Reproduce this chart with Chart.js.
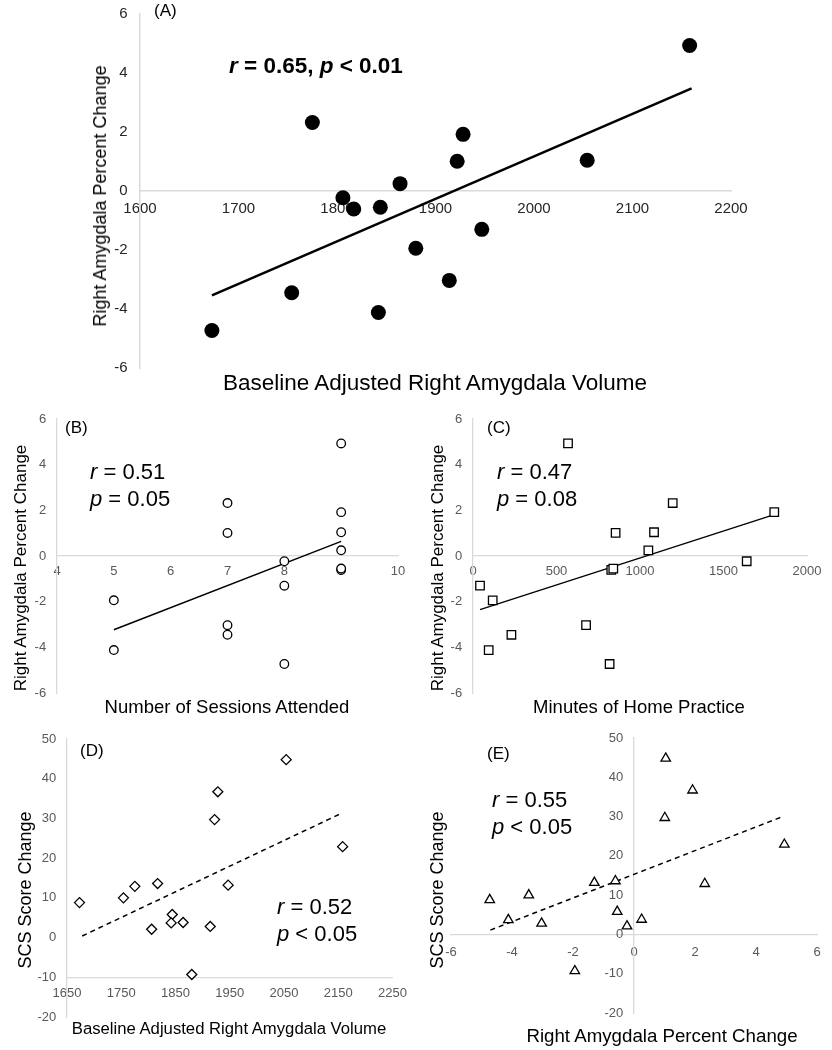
<!DOCTYPE html>
<html>
<head>
<meta charset="utf-8">
<script src="https://cdn.jsdelivr.net/npm/chart.js@4.4.1/dist/chart.umd.min.js"></script>
<style>
  body { margin: 0; background: #fff; }
  #wrap { position: relative; width: 832px; height: 1050px; overflow: hidden; font-family: "Liberation Sans", Arial, sans-serif; color: #000; }
  canvas { position: absolute; }
  .txt { position: absolute; white-space: nowrap; line-height: 1; }
  .vt { transform-origin: center center; transform: translate(-50%, -50%) rotate(-90deg); }
  .hc { transform: translateX(-50%); }
</style>
</head>
<body>
<div id="wrap">
  <canvas id="chartA"></canvas>
  <canvas id="chartB"></canvas>
  <canvas id="chartC"></canvas>
  <canvas id="chartD"></canvas>
  <canvas id="chartE"></canvas>

  <!-- panel A text -->
  <div class="txt" style="left:154px; top:2px; font-size:17px;">(A)</div>
  <div class="txt" style="left:229px; top:55px; font-size:22.5px; font-weight:bold;"><i>r</i> = 0.65, <i>p</i> &lt; 0.01</div>
  <div class="txt vt" style="left:100px; top:196px; font-size:18px;">Right Amygdala Percent Change</div>
  <div class="txt hc" style="left:435px; top:372px; font-size:22.5px;">Baseline Adjusted Right Amygdala Volume</div>

  <!-- panel B text -->
  <div class="txt" style="left:65px; top:419px; font-size:17px;">(B)</div>
  <div class="txt" style="left:90px; top:458px; font-size:22px; line-height:27px;"><i>r</i> = 0.51<br><i>p</i> = 0.05</div>
  <div class="txt vt" style="left:20px; top:568px; font-size:17px;">Right Amygdala Percent Change</div>
  <div class="txt hc" style="left:227px; top:698px; font-size:18.5px;">Number of Sessions Attended</div>

  <!-- panel C text -->
  <div class="txt" style="left:487px; top:419px; font-size:17px;">(C)</div>
  <div class="txt" style="left:497px; top:458px; font-size:22px; line-height:27px;"><i>r</i> = 0.47<br><i>p</i> = 0.08</div>
  <div class="txt vt" style="left:437px; top:568px; font-size:17px;">Right Amygdala Percent Change</div>
  <div class="txt hc" style="left:639px; top:698px; font-size:18.5px;">Minutes of Home Practice</div>

  <!-- panel D text -->
  <div class="txt" style="left:80px; top:742px; font-size:17px;">(D)</div>
  <div class="txt" style="left:277px; top:893px; font-size:22px; line-height:27px;"><i>r</i> = 0.52<br><i>p</i> &lt; 0.05</div>
  <div class="txt vt" style="left:25px; top:890px; font-size:18px;">SCS Score Change</div>
  <div class="txt hc" style="left:229px; top:1021px; font-size:16.7px;">Baseline Adjusted Right Amygdala Volume</div>

  <!-- panel E text -->
  <div class="txt" style="left:487px; top:745px; font-size:17px;">(E)</div>
  <div class="txt" style="left:492px; top:786px; font-size:22px; line-height:27px;"><i>r</i> = 0.55<br><i>p</i> &lt; 0.05</div>
  <div class="txt vt" style="left:437px; top:890px; font-size:18px;">SCS Score Change</div>
  <div class="txt hc" style="left:662px; top:1027px; font-size:18.7px;">Right Amygdala Percent Change</div>
</div>

<script>
// =============================================================================
// DATA (one entry per participant, same order in every array)
// =============================================================================

const baselineVolume = [1673, 1754, 1775, 1806, 1817, 1844, 1842, 1864, 1880, 1914, 1922, 1928, 1947, 2054, 2158];
const amygdalaChange = [-4.73, -3.45, 2.32, -0.23, -0.61, -0.55, -4.12, 0.25, -1.94, -3.03, 1.01, 1.92, -1.30, 1.04, 4.93];
const sessionsAttended = [8, 7, 7, 8, 9, 9, 5, 9, 5, 7, 7, 9, 8, 9, 9];
const homePracticeMin = [818, 230, 1196, 1639, 828, 840, 94, 1050, 118, 677, 854, 1804, 42, 1084, 569];
const scsChange = [8.8, 10.0, 12.9, 2.1, 13.6, 5.8, 3.7, 3.8, -9.3, 2.8, 29.7, 36.7, 13.2, 44.8, 22.9];

// fitted lines, end points
const fitA_x = [1673, 2160];
const fitA_y = [-3.54, 3.48];
const fitB_x = [5, 9];
const fitB_y = [-3.23, 0.64];
const fitC_x = [42, 1804];
const fitC_y = [-2.35, 1.81];
const fitD_x = [1678, 2156];
const fitD_y = [0.4, 31.3];
const fitE_x = [-4.71, 4.81];
const fitE_y = [1.1, 29.8];

// axis ranges / tick steps
const rangeA = { xMin: 1600, xMax: 2200, xStep: 100, yMin: -6, yMax: 6, yStep: 2 };
const rangeB = { xMin: 4, xMax: 10, xStep: 1, yMin: -6, yMax: 6, yStep: 2 };
const rangeC = { xMin: 0, xMax: 2000, xStep: 500, yMin: -6, yMax: 6, yStep: 2 };
const rangeD = { xMin: 1650, xMax: 2250, xStep: 100, yMin: -20, yMax: 50, yStep: 10 };
const rangeE = { xMin: -6, xMax: 6, xStep: 2, yMin: -20, yMax: 50, yStep: 10 };

// =============================================================================
// HELPERS
// =============================================================================

const AXIS_GREY = '#d9d9d9';

function zipXY(xs, ys) {
  return xs.map((x, i) => ({ x: x, y: ys[i] }));
}

/**
 * Build one scatter panel with a fit line.
 * box: canvas placement, area: plot area (page pixels)
 * Axes cross at a data value like Excel does, so they use object positions.
 */
function makePanel(id, box, area, range, points, fit, opts) {
  const canvas = document.getElementById(id);
  canvas.style.left = box.left + 'px';
  canvas.style.top = box.top + 'px';
  canvas.width = box.width;
  canvas.height = box.height;

  // object-positioned y axes ignore ticks.padding, so pad with spaces
  const yGap = ' '.repeat(opts.ySpaces);

  return new Chart(canvas.getContext('2d'), {
    type: 'scatter',
    data: {
      datasets: [
        {
          type: 'line',
          data: fit,
          borderColor: '#000',
          borderWidth: opts.fitWidth,
          borderDash: opts.fitDash || [],
          pointRadius: 0,
          fill: false,
          order: 2
        },
        {
          data: points,
          pointStyle: opts.pointStyle,
          pointRadius: opts.pointRadius,
          pointHoverRadius: opts.pointRadius,
          pointBackgroundColor: opts.pointFill,
          pointBorderColor: '#000',
          pointBorderWidth: opts.pointBorder,
          order: 1
        }
      ]
    },
    options: {
      responsive: false,
      animation: false,
      events: [],
      clip: false,
      layout: {
        padding: {
          left: area.left - box.left,
          top: area.top - box.top,
          right: box.left + box.width - area.right,
          bottom: box.top + box.height - area.bottom
        }
      },
      plugins: { legend: { display: false }, tooltip: { enabled: false } },
      scales: {
        x: {
          type: 'linear',
          position: { y: opts.xCross },
          min: range.xMin,
          max: range.xMax,
          grid: { display: false, drawTicks: false },
          border: { display: true, color: AXIS_GREY, width: opts.axisWidth },
          ticks: {
            stepSize: range.xStep,
            color: opts.tickColor,
            font: opts.tickFont,
            padding: opts.xPad,
            maxRotation: 0,
            autoSkip: false,
            callback: (v) => String(v)
          }
        },
        y: {
          type: 'linear',
          position: { x: opts.yCross },
          min: range.yMin,
          max: range.yMax,
          grid: { display: false, drawTicks: false },
          border: { display: true, color: AXIS_GREY, width: opts.axisWidth },
          ticks: {
            stepSize: range.yStep,
            color: opts.tickColor,
            font: opts.tickFont,
            autoSkip: false,
            callback: (v) => String(v) + yGap
          }
        }
      }
    }
  });
}

// =============================================================================
// PANELS
// =============================================================================

const smallTicks = { family: '"Liberation Sans", Arial, sans-serif', size: 13 };
const bigTicks = { family: '"Liberation Sans", Arial, sans-serif', size: 15 };

// (A) baseline volume vs amygdala change
makePanel('chartA',
  { left: 0, top: 0, width: 780, height: 395 },
  { left: 140, top: 14, right: 731, bottom: 368 },
  rangeA,
  zipXY(baselineVolume, amygdalaChange),
  zipXY(fitA_x, fitA_y),
  { xCross: 0, yCross: 1600, pointStyle: 'circle', pointRadius: 7.5, pointFill: '#000', pointBorder: 0,
    fitWidth: 2.5, tickColor: '#262626', tickFont: bigTicks, xPad: 9, ySpaces: 3, axisWidth: 1.5 });

// (B) sessions attended vs amygdala change
makePanel('chartB',
  { left: 0, top: 395, width: 415, height: 315 },
  { left: 57, top: 419, right: 398, bottom: 693 },
  rangeB,
  zipXY(sessionsAttended, amygdalaChange),
  zipXY(fitB_x, fitB_y),
  { xCross: 0, yCross: 4, pointStyle: 'circle', pointRadius: 4.3, pointFill: '#fff', pointBorder: 1.3,
    fitWidth: 1.5, tickColor: '#595959', tickFont: smallTicks, xPad: 8, ySpaces: 3, axisWidth: 1.3 });

// (C) minutes of home practice vs amygdala change
makePanel('chartC',
  { left: 415, top: 395, width: 417, height: 315 },
  { left: 473, top: 419, right: 807, bottom: 693 },
  rangeC,
  zipXY(homePracticeMin, amygdalaChange),
  zipXY(fitC_x, fitC_y),
  { xCross: 0, yCross: 0, pointStyle: 'rect', pointRadius: 6, pointFill: '#fff', pointBorder: 1.3,
    fitWidth: 1.3, tickColor: '#595959', tickFont: smallTicks, xPad: 8, ySpaces: 3, axisWidth: 1.3 });

// (D) baseline volume vs SCS change
makePanel('chartD',
  { left: 0, top: 715, width: 415, height: 335 },
  { left: 67, top: 739, right: 393, bottom: 1017 },
  rangeD,
  zipXY(baselineVolume, scsChange),
  zipXY(fitD_x, fitD_y),
  { xCross: -10, yCross: 1650, pointStyle: 'rectRot', pointRadius: 5, pointFill: '#fff', pointBorder: 1.3,
    fitWidth: 1.5, fitDash: [5, 4], tickColor: '#595959', tickFont: smallTicks, xPad: 8, ySpaces: 3, axisWidth: 1.3 });

// (E) amygdala change vs SCS change
makePanel('chartE',
  { left: 415, top: 715, width: 417, height: 335 },
  { left: 451, top: 738, right: 817, bottom: 1013 },
  rangeE,
  zipXY(amygdalaChange, scsChange),
  zipXY(fitE_x, fitE_y),
  { xCross: 0, yCross: 0, pointStyle: 'triangle', pointRadius: 5.5, pointFill: '#fff', pointBorder: 1.3,
    fitWidth: 1.5, fitDash: [5, 4], tickColor: '#595959', tickFont: smallTicks, xPad: 10, ySpaces: 3, axisWidth: 1.3 });
</script>
</body>
</html>
